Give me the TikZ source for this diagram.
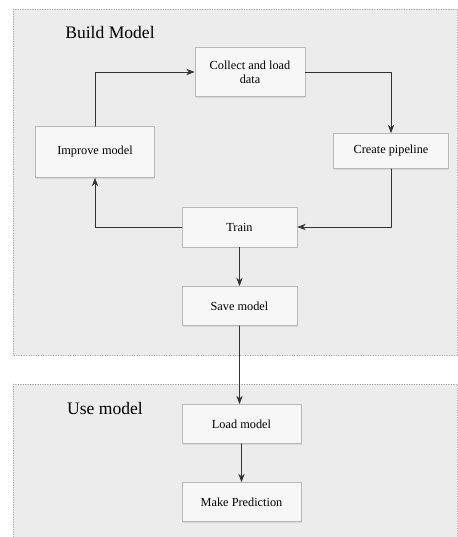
\documentclass[tikz,border=0pt]{standalone}
\usepackage{fontspec}
\setmainfont{Liberation Serif}
\usetikzlibrary{arrows.meta,shadows}
\begin{document}
\begin{tikzpicture}[>=Stealth, line join=round, line cap=round,
	panel/.style={draw=gray!70, densely dotted, fill=gray!15},
	stepbox/.style={draw=gray!55, fill=gray!6, font=\scriptsize, align=center, inner sep=2pt,
		drop shadow={shadow xshift=0.4pt, shadow yshift=-0.6pt, fill=gray!45, opacity=0.5}},
	flow/.style={->, draw=black!80, thin}]
\useasboundingbox (0,0) rectangle (9.14,-10.74);
% Khung
\draw[panel] (0.26,-0.18) rectangle (9.14,-7.1);
\draw[panel] (0.26,-7.68) rectangle (9.14,-10.74);
\node at (2.2,-0.64) {Build Model};
\node at (2.1,-8.16) {Use model};
% Cac buoc
\node[stepbox, minimum width=2.2cm, minimum height=0.98cm] (collect) at (5.0,-1.44) {Collect and load\\ data};
\node[stepbox, minimum width=2.38cm, minimum height=1.02cm] (improve) at (1.9,-3.04) {Improve model};
\node[stepbox, minimum width=2.3cm, minimum height=0.7cm] (pipeline) at (7.82,-3.02) {Create pipeline};
\node[stepbox, minimum width=2.3cm, minimum height=0.8cm] (train) at (4.79,-4.54) {Train};
\node[stepbox, minimum width=2.3cm, minimum height=0.78cm] (save) at (4.79,-6.12) {Save model};
\node[stepbox, minimum width=2.38cm, minimum height=0.78cm] (load) at (4.83,-8.48) {Load model};
\node[stepbox, minimum width=2.38cm, minimum height=0.78cm] (predict) at (4.83,-10.04) {Make Prediction};
% Mui ten
\draw[flow] (improve.north) |- (collect.west);
\draw[flow] (collect.east) -| (pipeline.north);
\draw[flow] (pipeline.south) |- (train.east);
\draw[flow] (train.west) -| (improve.south);
\draw[flow] (train.south) -- (save.north);
\draw[flow] (save.south) -- (save.south |- load.north);
\draw[flow] (load.south) -- (predict.north);
\end{tikzpicture}
\end{document}
